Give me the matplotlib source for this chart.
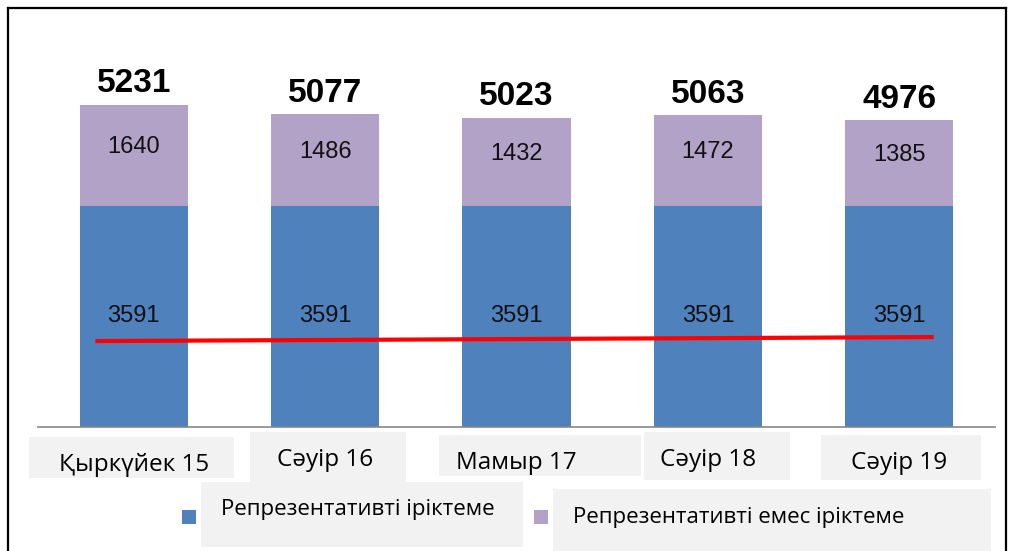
import matplotlib

matplotlib.use("Agg")

import matplotlib.pyplot as plt
from matplotlib.lines import Line2D
from matplotlib.patches import Rectangle
from matplotlib.font_manager import findfont, FontProperties

categories = ["Қыркүйек 15", "Сәуір 16", "Мамыр 17", "Сәуір 18", "Сәуір 19"]
representative = [3591, 3591, 3591, 3591, 3591]
non_representative = [1640, 1486, 1432, 1472, 1385]
totals = [5231, 5077, 5023, 5063, 4976]
red_line_values = [1395, 1460]

legend_labels = ["Репрезентативті іріктеме", "Репрезентативті емес іріктеме"]

blue = "#4F81BD"
purple = "#B3A2C7"
box_grey = "#F2F2F2"

# narrow font for numbers if available
narrow = "Liberation Sans Narrow"
try:
    findfont(FontProperties(family=narrow), fallback_to_default=False)
except Exception:
    narrow = "Liberation Sans"

label_font = ["Open Sans", "DejaVu Sans"]

fig = plt.figure(figsize=(10.15, 5.51), dpi=100, facecolor="white")
ax = fig.add_axes([38 / 1015, 1 - 427 / 551, 957 / 1015, 369.6 / 551])

x = list(range(len(categories)))
width = 0.565
ax.bar(x, representative, width=width, color=blue, zorder=2)
ax.bar(x, non_representative, width=width, bottom=representative, color=purple, zorder=2)

for i in x:
    ax.text(i, representative[i] / 2, str(representative[i]), ha="center", va="center",
            fontsize=17, family=narrow, color="#111111", zorder=3)
    ax.text(i, representative[i] + non_representative[i] / 2 + 130, str(non_representative[i]),
            ha="center", va="center", fontsize=17, family=narrow, color="#111111", zorder=3)
    ax.text(i, representative[i] + non_representative[i] + 90, str(totals[i]),
            ha="center", va="bottom", fontsize=24, fontweight="bold", family=narrow,
            color="black", zorder=3)

# red reference line across the bars
ax.plot([x[0] - 0.2, x[-1] + 0.18], red_line_values, color="#FF0000", linewidth=3,
        solid_capstyle="butt", zorder=4)

ax.set_xlim(-0.5, len(categories) - 0.5)
ax.set_ylim(0, 6000)
ax.set_yticks([])
ax.set_xticks([])
for side in ["top", "right", "left"]:
    ax.spines[side].set_visible(False)
ax.spines["bottom"].set_color("#868686")
ax.spines["bottom"].set_linewidth(1.2)
ax.patch.set_visible(False)

# category labels in grey boxes (pixel layout)
boxes = [(29, 437, 205, 41), (250, 432, 156, 50), (439, 435, 202, 41),
         (644, 432, 146, 48), (821, 435, 160, 45)]
text_y = [465, 460, 463, 460, 463]
for i, (bx, by, bw, bh) in enumerate(boxes):
    fig.add_artist(Rectangle((bx / 1015, 1 - (by + bh) / 551), bw / 1015, bh / 551,
                             transform=fig.transFigure, facecolor=box_grey,
                             edgecolor="none", zorder=1))
    cx = ax.transData.transform((i, 0))[0] / 1015
    fig.text(cx, 1 - text_y[i] / 551, categories[i], ha="center", va="center",
             fontsize=17.5, family=label_font, color="black", zorder=2)

# legend
legend_boxes = [(201, 482, 322, 65), (553, 489, 438, 62)]
legend_marks = [(182, 510), (534, 510)]
legend_text = [(221, 510), (573, 517)]
for (bx, by, bw, bh), (mx, my), (tx, ty), label, color in zip(
        legend_boxes, legend_marks, legend_text, legend_labels, [blue, purple]):
    fig.add_artist(Rectangle((bx / 1015, 1 - (by + bh) / 551), bw / 1015, bh / 551,
                             transform=fig.transFigure, facecolor=box_grey,
                             edgecolor="none", zorder=1))
    fig.add_artist(Rectangle((mx / 1015, 1 - (my + 14) / 551), 14 / 1015, 14 / 551,
                             transform=fig.transFigure, facecolor=color,
                             edgecolor="none", zorder=2))
    fig.text(tx / 1015, 1 - ty / 551, label, ha="left", va="center",
             fontsize=16, family=label_font, color="black", zorder=2)

# outer frame
for xs, ys in [([8, 8], [8, 551]), ([8, 1006], [8, 8]), ([1006, 1006], [8, 551])]:
    fig.add_artist(Line2D([v / 1015 for v in xs], [1 - v / 551 for v in ys],
                          transform=fig.transFigure, color="black", linewidth=1.6))

fig.savefig("out.png", dpi=100, facecolor="white")
plt.close(fig)
